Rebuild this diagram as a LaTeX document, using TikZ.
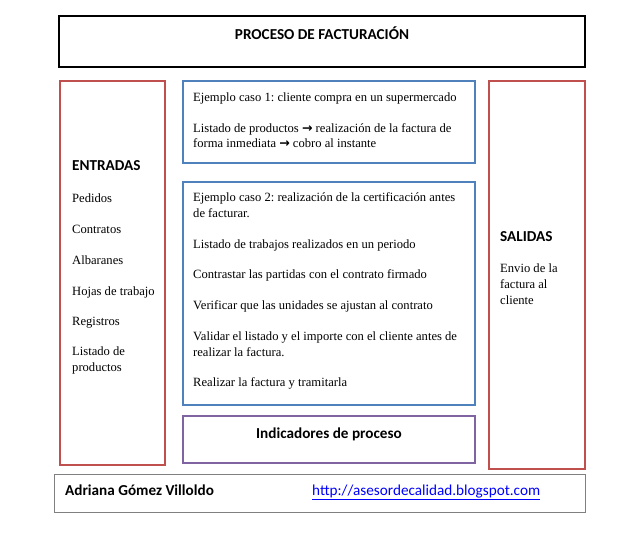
\documentclass[tikz,border=0pt]{standalone}
\usepackage{fontspec}
\setmainfont{Liberation Serif}
\newfontfamily\calfont{Carlito}
\newfontfamily\dejavu{DejaVu Sans}
\definecolor{ored}{HTML}{C0504D}
\definecolor{oblue}{HTML}{4F81BD}
\definecolor{opurple}{HTML}{8064A2}
\definecolor{olink}{HTML}{0000FF}
\newcommand{\arr}{{\dejavu\bfseries →}}
\frenchspacing
\begin{document}
\begin{tikzpicture}[x=1pt,y=-1pt,
  redbox/.style={draw=ored,line width=2.4pt},
  bluebox/.style={draw=oblue,line width=2.4pt},
  purplebox/.style={draw=opurple,line width=2.4pt},
  txt/.style={anchor=base west,inner sep=0pt,font=\fontsize{12.6}{15.5}\selectfont},
  head/.style={inner sep=0pt,font=\calfont\bfseries\fontsize{15.2}{18}\selectfont}]
\useasboundingbox (0,0) rectangle (640,533);
% boxes
\draw[line width=2pt] (59,16) rectangle (585,67);
\draw[redbox] (60,81) rectangle (165,465);
\draw[bluebox] (183,81) rectangle (475,163);
\draw[bluebox] (183,182) rectangle (475,405);
\draw[purplebox] (183,416) rectangle (475,463);
\draw[redbox] (489,81) rectangle (585,469);
\draw[gray,line width=0.8pt] (54,474) rectangle (585,512);
% title
\node[head,anchor=base] (title) at (322,39) {PROCESO DE FACTURACIÓN};
% entradas
\node[head,anchor=base west] (ent) at (72,170) {ENTRADAS};
\node[txt] (e1) at (72,202) {Pedidos};
\node[txt] (e2) at (72,233) {Contratos};
\node[txt] (e3) at (72,264) {Albaranes};
\node[txt] (e4) at (72,295) {Hojas de trabajo};
\node[txt] (e5) at (72,325) {Registros};
\node[txt] (e6a) at (72,355) {Listado de};
\node[txt] (e6b) at (72,371) {productos};
% case 1
\node[txt] (c1a) at (193,101) {Ejemplo caso 1: cliente compra en un supermercado};
\node[txt] (c1b) at (193,132) {Listado de productos \arr{} realización de la factura de};
\node[txt] (c1c) at (193,147) {forma inmediata \arr{} cobro al instante};
% case 2
\node[txt] (c2a) at (193,201) {Ejemplo caso 2: realización de la certificación antes};
\node[txt] (c2a2) at (193,217) {de facturar.};
\node[txt] (c2b) at (193,248) {Listado de trabajos realizados en un periodo};
\node[txt] (c2c) at (193,278) {Contrastar las partidas con el contrato firmado};
\node[txt] (c2d) at (193,309) {Verificar que las unidades se ajustan al contrato};
\node[txt] (c2e) at (193,340) {Validar el listado y el importe con el cliente antes de};
\node[txt] (c2e2) at (193,356) {realizar la factura.};
\node[txt] (c2f) at (193,386) {Realizar la factura y tramitarla};
% indicadores
\node[head,anchor=base] (ind) at (329,438) {Indicadores de proceso};
% salidas
\node[head,anchor=base west] (sal) at (500,241) {SALIDAS};
\node[txt] (s1) at (500,272) {Envio de la};
\node[txt] (s2) at (500,288) {factura al};
\node[txt] (s3) at (500,304) {cliente};
% footer
\node[head,anchor=base west] (auth) at (65,495) {Adriana Gómez Villoldo};
\node[inner sep=0pt,anchor=base west,font=\calfont\fontsize{15.2}{18}\selectfont,text=olink] (url) at (312,495) {\underline{http://asesordecalidad.blogspot.com}};
\end{tikzpicture}
\end{document}
